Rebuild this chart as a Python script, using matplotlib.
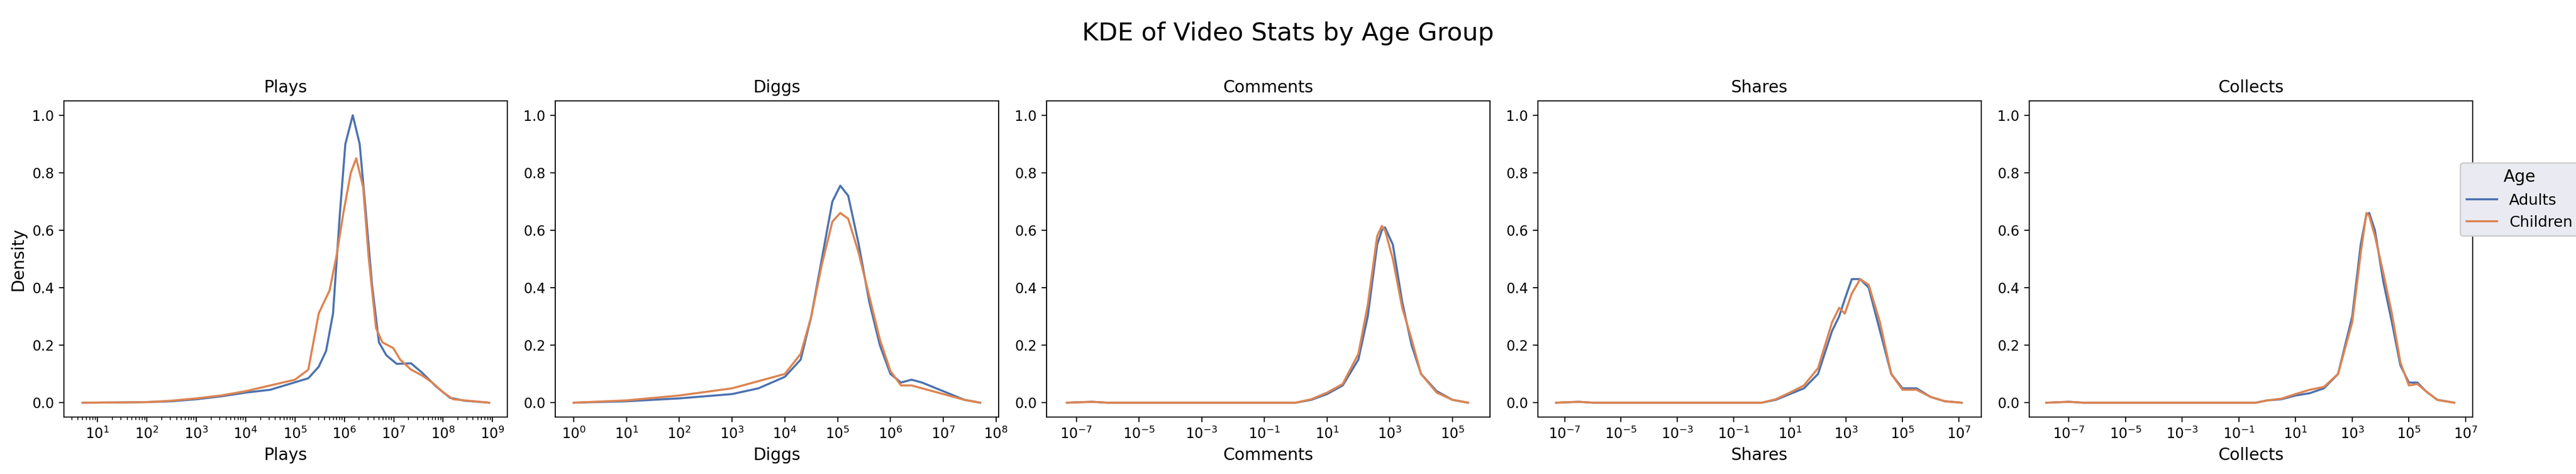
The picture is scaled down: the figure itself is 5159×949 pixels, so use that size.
#!/usr/bin/env python3
"""KDE of video stats by age group (curves read off the reference)."""

import matplotlib.pyplot as plt
import numpy as np

panels = ["Plays", "Diggs", "Comments", "Shares", "Collects"]
groups = ["Adults", "Children"]
colors = ["#4C72B0", "#DD8452"]

# log10(value) grid and densities per panel and group
plays_x_adults = [0.7, 1.5, 2.0, 2.5, 3.0, 3.5, 4.0, 4.5, 5.0, 5.27, 5.48, 5.63, 5.77, 5.91, 6.02, 6.17,
                  6.31, 6.42, 6.56, 6.7, 6.85, 7.06, 7.35, 7.57, 7.86, 8.14, 8.43, 8.93]
plays_y_adults = [0, 0.001, 0.002, 0.005, 0.012, 0.022, 0.035, 0.045, 0.071, 0.085, 0.125, 0.18, 0.31, 0.66,
                  0.9, 1.0, 0.9, 0.69, 0.41, 0.21, 0.165, 0.135, 0.137, 0.105, 0.056, 0.017, 0.007, 0]
plays_x_children = [0.7, 1.5, 2.0, 2.5, 3.0, 3.5, 4.0, 4.5, 5.0, 5.27, 5.48, 5.56, 5.7, 5.84, 5.98, 6.13,
                    6.24, 6.38, 6.49, 6.64, 6.77, 6.99, 7.13, 7.35, 7.57, 7.78, 8.0, 8.2, 8.5, 8.93]
plays_y_children = [0, 0.001, 0.002, 0.007, 0.015, 0.025, 0.04, 0.06, 0.08, 0.115, 0.31, 0.34, 0.39, 0.51,
                    0.66, 0.8, 0.85, 0.75, 0.51, 0.26, 0.21, 0.19, 0.15, 0.115, 0.095, 0.07, 0.036, 0.012,
                    0.007, 0]

diggs_x = [0, 1, 2, 3, 3.5, 4, 4.3, 4.5, 4.7, 4.9, 5.05, 5.2, 5.4, 5.6, 5.8, 6.0, 6.2, 6.4, 6.6, 7.0, 7.4, 7.7]
diggs_y_adults = [0, 0.005, 0.015, 0.03, 0.05, 0.09, 0.15, 0.3, 0.5, 0.7, 0.755, 0.72, 0.55, 0.35, 0.2,
                  0.1, 0.07, 0.08, 0.07, 0.04, 0.01, 0]
diggs_y_children = [0, 0.008, 0.025, 0.05, 0.075, 0.1, 0.17, 0.3, 0.48, 0.63, 0.66, 0.64, 0.52, 0.37, 0.22,
                    0.11, 0.06, 0.06, 0.05, 0.03, 0.01, 0]

comments_x = [-7.3, -6.5, -6.0, 0.0, 0.5, 1.0, 1.5, 2.0, 2.3, 2.6, 2.75, 2.85, 3.1, 3.4, 3.7, 4.0, 4.5, 5.0, 5.5]
comments_y_adults = [0, 0.003, 0, 0, 0.01, 0.03, 0.06, 0.15, 0.3, 0.55, 0.6, 0.61, 0.55, 0.35, 0.2, 0.1,
                     0.04, 0.01, 0]
comments_y_children = [0, 0.003, 0, 0, 0.012, 0.035, 0.065, 0.17, 0.34, 0.58, 0.615, 0.6, 0.5, 0.33, 0.22,
                       0.1, 0.035, 0.01, 0]

shares_x = [-7.3, -6.5, -6.0, 0.0, 0.5, 1.0, 1.5, 2.0, 2.5, 2.75, 2.95, 3.2, 3.5, 3.8, 4.2, 4.6, 5.0, 5.5,
            6.0, 6.5, 7.1]
shares_y_adults = [0, 0.003, 0, 0, 0.01, 0.03, 0.05, 0.1, 0.25, 0.3, 0.36, 0.43, 0.43, 0.4, 0.25, 0.1,
                   0.05, 0.05, 0.02, 0.005, 0]
shares_y_children = [0, 0.003, 0, 0, 0.012, 0.035, 0.06, 0.12, 0.28, 0.33, 0.31, 0.38, 0.43, 0.41, 0.28,
                     0.1, 0.045, 0.045, 0.02, 0.005, 0]

collects_x = [-7.8, -7.0, -6.5, -0.4, 0.0, 0.5, 1.0, 1.5, 2.0, 2.5, 3.0, 3.3, 3.5, 3.6, 3.8, 4.1, 4.4, 4.7,
              5.0, 5.3, 5.6, 6.0, 6.6]
collects_y_adults = [0, 0.003, 0, 0, 0.008, 0.012, 0.025, 0.033, 0.05, 0.1, 0.3, 0.55, 0.655, 0.66, 0.6,
                     0.42, 0.28, 0.13, 0.07, 0.07, 0.04, 0.01, 0]
collects_y_children = [0, 0.003, 0, 0, 0.008, 0.014, 0.03, 0.045, 0.055, 0.1, 0.28, 0.52, 0.66, 0.65,
                       0.58, 0.45, 0.31, 0.14, 0.06, 0.065, 0.04, 0.01, 0]

curves = {
    "Plays": [(plays_x_adults, plays_y_adults), (plays_x_children, plays_y_children)],
    "Diggs": [(diggs_x, diggs_y_adults), (diggs_x, diggs_y_children)],
    "Comments": [(comments_x, comments_y_adults), (comments_x, comments_y_children)],
    "Shares": [(shares_x, shares_y_adults), (shares_x, shares_y_children)],
    "Collects": [(collects_x, collects_y_adults), (collects_x, collects_y_children)],
}
xlims = {
    "Plays": (10**0.32, 10**9.3),
    "Diggs": (10**-0.35, 10**8.05),
    "Comments": (10**-7.95, 10**6.2),
    "Shares": (10**-7.95, 10**7.8),
    "Collects": (10**-8.4, 10**7.25),
}
odd_ticks = {
    "Comments": [-7, -5, -3, -1, 1, 3, 5],
    "Shares": [-7, -5, -3, -1, 1, 3, 5, 7],
    "Collects": [-7, -5, -3, -1, 1, 3, 5, 7],
}

W, H = 5159, 949
fig = plt.figure(figsize=(W / 200, H / 200), dpi=200)
left0, width, gap = 128, 888, 96
bottom, top = 835, 202

handles = []
for i, name in enumerate(panels):
    x0 = left0 + i * (width + gap)
    ax = fig.add_axes([x0 / W, 1 - bottom / H, width / W, (bottom - top) / H])
    for (xs, ys), grp, c in zip(curves[name], groups, colors):
        (ln,) = ax.plot(10 ** np.array(xs), ys, color=c, lw=1.5, label=grp)
        if i == 0:
            handles.append(ln)
    ax.set_xscale("log")
    if name in odd_ticks:
        ax.set_xticks([10.0**e for e in odd_ticks[name]])
    ax.set_xlim(*xlims[name])
    ax.set_ylim(-0.05, 1.05)
    if i > 0:
        ax.xaxis.set_minor_locator(plt.NullLocator())
    ax.set_title(name, fontsize=12)
    ax.set_xlabel(name, fontsize=12)
    ax.tick_params(labelsize=10)
    if i == 0:
        ax.set_ylabel("Density", fontsize=12)

fig.suptitle("KDE of Video Stats by Age Group", fontsize=18, y=0.955)
leg = fig.legend(handles, groups, title="Age", loc="center left",
                 bbox_to_anchor=(4912 / W, 1 - 399 / H), fontsize=11, title_fontsize=12,
                 facecolor="#EAEAF2", edgecolor="#CCCCCC", framealpha=1)

fig.savefig("out.png", dpi=200)
